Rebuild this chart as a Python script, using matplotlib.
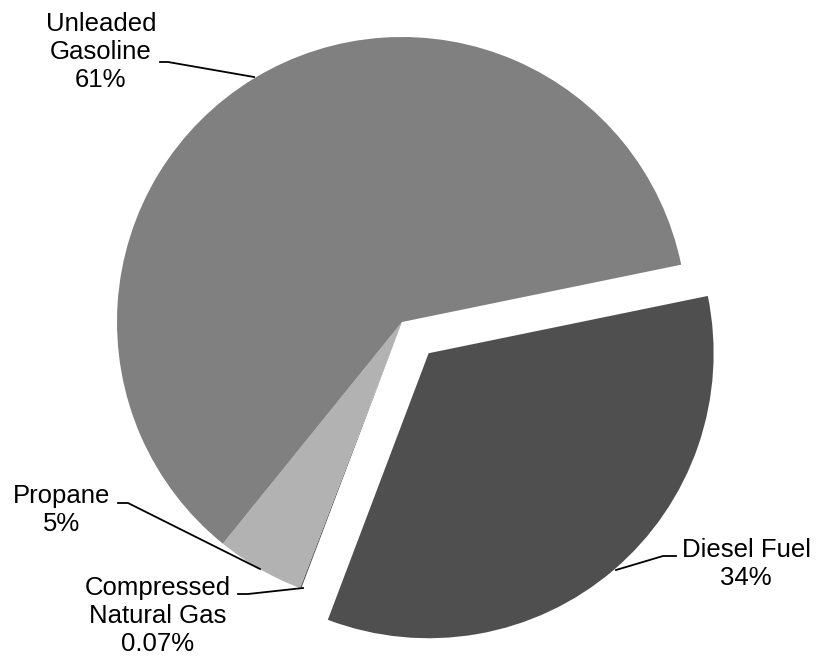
import matplotlib
matplotlib.use("Agg")
from matplotlib import pyplot as plt

# fuel share, clockwise from the diesel slice
fuels = ["Diesel Fuel", "Compressed\nNatural Gas", "Propane", "Unleaded\nGasoline"]
shares = [34, 0.07, 5, 61]
share_text = ["34%", "0.07%", "5%", "61%"]
colors = ["#4f4f4f", "#5a5a5a", "#b2b2b2", "#808080"]

plt.rcParams['font.family'] = ['Liberation Sans', 'DejaVu Sans']

fig = plt.figure(figsize=(8.19, 6.65), dpi=100)
ax = fig.add_axes([0, 0, 1, 1])

R = 285
cx, cy = 402, 665 - 322
explode = [0.144 * R, 0, 0, 0]

ax.pie(shares, colors=colors, startangle=11.6, counterclock=False,
       radius=R, center=(cx, cy), explode=explode,
       wedgeprops=dict(linewidth=0))

# label text position (pixel coords, y from top), leader line points
label_pos = {
    "Diesel Fuel": (746, 564),
    "Compressed\nNatural Gas": (158, 616),
    "Propane": (62, 510),
    "Unleaded\nGasoline": (101, 52),
}
leaders = {
    "Diesel Fuel": [(676, 556), (663, 556), (616, 570)],
    "Compressed\nNatural Gas": [(238, 594), (248, 594), (303, 588)],
    "Propane": [(118, 503), (128, 503), (260, 569)],
    "Unleaded\nGasoline": [(160, 62), (168, 62), (254, 77)],
}

for name, pct in zip(fuels, share_text):
    tx, ty = label_pos[name]
    ax.text(tx, 665 - ty, name + "\n" + pct, ha="center", va="center",
            fontsize=18.5, linespacing=1.22, color="black")
    pts = leaders[name]
    ax.plot([p[0] for p in pts], [665 - p[1] for p in pts], color="black", lw=1.3)

ax.set_xlim(0, 819)
ax.set_ylim(0, 665)
ax.set_aspect("equal")
ax.axis("off")

fig.savefig("out.png", dpi=100, facecolor="white")
